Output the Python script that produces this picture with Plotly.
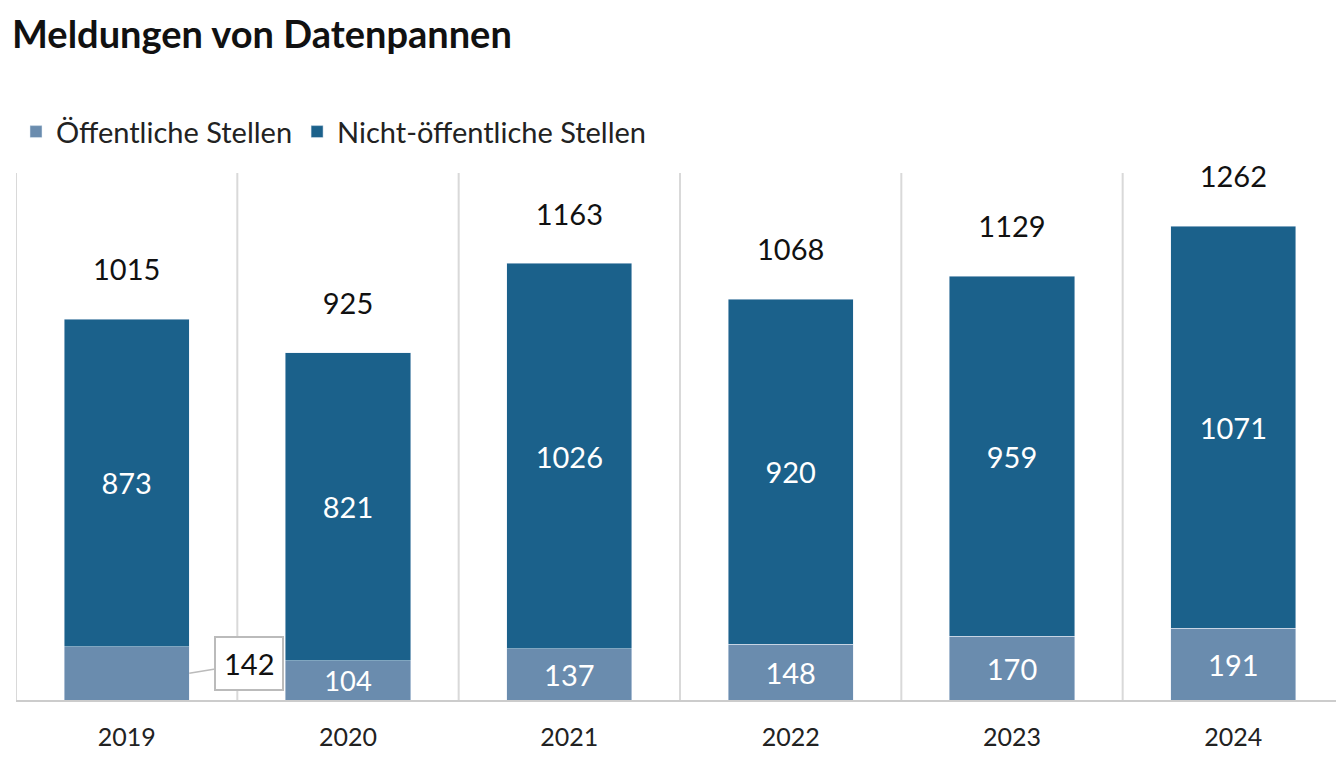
import plotly.graph_objects as go

years = ["2019", "2020", "2021", "2022", "2023", "2024"]
public = [142, 104, 137, 148, 170, 191]
nonpublic = [873, 821, 1026, 920, 959, 1071]
totals = [1015, 925, 1163, 1068, 1129, 1262]

C_PUB = "#6a8cae"
C_NON = "#1b618b"
FONT = "Lato"

fig = go.Figure()
fig.add_bar(x=years, y=public, name="Öffentliche Stellen", marker_color=C_PUB,
            width=0.565, text=[("" if i == 0 else str(v)) for i, v in enumerate(public)],
            textposition="inside", insidetextanchor="middle",
            textfont=dict(color="white", size=29, family=FONT))
fig.add_bar(x=years, y=nonpublic, name="Nicht-öffentliche Stellen   ", marker_color=C_NON,
            width=0.565, text=[str(v) for v in nonpublic],
            textposition="inside", insidetextanchor="middle",
            textfont=dict(color="white", size=29, family=FONT))
fig.add_scatter(x=years, y=[t + 123 for t in totals], mode="text", text=[str(t) for t in totals],
                textfont=dict(size=29, color="#111", family=FONT), showlegend=False,
                hoverinfo="skip", cliponaxis=False)

# callout for 2019 public value
fig.add_annotation(xref="x", yref="y", x=0.2825, y=public[0] / 2, text=str(public[0]),
                   showarrow=True, arrowhead=0, arrowwidth=1.5, arrowcolor="#bbbbbb",
                   ax=60, ay=-10, bordercolor="#bbbbbb", borderwidth=2, borderpad=8,
                   bgcolor="white", font=dict(size=29, color="#111", family=FONT))

for i in range(len(years) + 1):
    fig.add_shape(type="line", xref="x", yref="paper", x0=i - 0.5, x1=i - 0.5, y0=0, y1=1,
                  line=dict(color="#d9d9d9", width=2), layer="below")

fig.update_layout(
    barmode="stack", width=1344, height=764,
    margin=dict(l=8, r=8, t=165, b=72),
    plot_bgcolor="white", paper_bgcolor="white",
    title=dict(text="<b>Meldungen von Datenpannen</b>", x=0.003, xanchor="left",
               y=0.965, yanchor="middle", font=dict(size=38, color="#111", family=FONT)),
    legend=dict(orientation="h", x=0.0, xanchor="left", y=0.838, yref="container",
                yanchor="middle", font=dict(size=29, color="#222", family=FONT),
                traceorder="normal", itemwidth=30),
)
fig.update_xaxes(type="category", range=[-0.5, 5.5], showline=True, linecolor="#cccccc",
                 linewidth=2, tickfont=dict(size=25, color="#222", family=FONT),
                 ticks="outside", ticklen=14, tickcolor="rgba(0,0,0,0)", showgrid=False)
fig.update_yaxes(range=[0, 1404], visible=False, showgrid=False)

fig.write_html("out.html")
